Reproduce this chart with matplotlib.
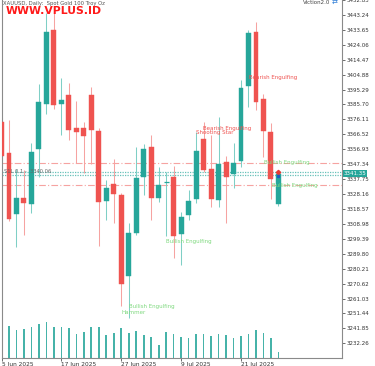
import matplotlib
matplotlib.use("Agg")
import matplotlib.pyplot as plt
import matplotlib.transforms as mtransforms
import numpy as np
import pandas as pd

# ---------------- data ----------------
dates = pd.bdate_range("2025-06-05", periods=38)
opens = [3374.2, 3354.4, 3315.4, 3325.6, 3321.8, 3356.9, 3385.7, 3433.6, 3386.3, 3392.1,
         3370.3, 3370.3, 3392.1, 3368.4, 3323.7, 3334.6, 3327.5, 3275.7, 3303.2, 3339.0,
         3358.2, 3325.6, 3335.5, 3339.0, 3302.6, 3314.7, 3325.0, 3363.3, 3344.2, 3324.3,
         3348.6, 3340.9, 3349.3, 3397.8, 3432.4, 3389.5, 3367.8, 3321.8]
highs = [3376.8, 3375.5, 3344.2, 3343.5, 3360.8, 3399.1, 3444.5, 3444.5, 3403.0, 3399.8,
         3388.2, 3374.2, 3397.2, 3370.4, 3337.1, 3350.5, 3328.8, 3309.6, 3358.2, 3360.1,
         3365.9, 3345.4, 3342.2, 3346.1, 3316.7, 3330.7, 3367.8, 3374.2, 3365.9, 3377.4,
         3352.5, 3360.8, 3401.7, 3433.7, 3438.8, 3392.7, 3373.6, 3342.5]
lows = [3349.9, 3310.9, 3294.3, 3302.0, 3316.0, 3339.0, 3379.9, 3383.1, 3365.9, 3362.7,
        3348.0, 3341.6, 3347.3, 3294.9, 3311.5, 3309.6, 3256.5, 3248.3, 3301.9, 3327.5,
        3311.5, 3323.0, 3301.3, 3287.3, 3282.8, 3311.5, 3322.4, 3342.2, 3319.9, 3319.9,
        3309.6, 3332.0, 3345.4, 3383.8, 3381.9, 3351.8, 3325.0, 3320.5]
closes = [3352.5, 3312.2, 3325.6, 3322.4, 3355.0, 3387.0, 3432.4, 3385.1, 3388.9, 3369.1,
          3367.8, 3365.2, 3369.1, 3323.0, 3332.0, 3328.2, 3270.6, 3303.2, 3338.4, 3356.9,
          3325.6, 3333.9, 3336.0, 3301.3, 3313.5, 3323.7, 3355.7, 3343.5, 3325.0, 3347.3,
          3339.0, 3348.0, 3396.6, 3431.7, 3387.0, 3368.4, 3337.8, 3341.35]
volumes = [150000, 158000, 141500, 146500, 153000, 170000, 181500, 153000, 156500, 148000,
           118000, 128000, 156500, 156500, 113000, 126500, 151500, 126500, 135000, 113000,
           106500, 66500, 131500, 118000, 106500, 100000, 121500, 121500, 111500, 121500,
           113000, 100000, 110000, 118000, 138000, 123000, 101500, 31500]

ytick_values = [round(3232.26 + 9.59 * k, 2) for k in range(24)]
date_tick_idx = [0, 8, 16, 24, 32]

patterns = [  # (bar index, price, text, kind)
    (33.1, 3402.9, "Bearish Engulfing", "bear"),
    (26.96, 3370.6, "Bearish Engulfing", "bear"),
    (26.0, 3368.0, "Shooting Star", "bear"),
    (35.1, 3348.7, "Bullish Engulfing", "bull"),
    (36.2, 3333.7, "Bullish Engulfing", "bull"),
    (22.0, 3297.8, "Bullish Engulfing", "bull"),
    (16.97, 3256.1, "Bullish Engulfing", "bull"),
    (16.0, 3252.3, "Hammer", "bull"),
]
sltp_levels = [3348.2, 3334.3]
price_lines = [3342.1, 3340.6]
last_price = 3341.35
order_text = "S1L 0.1 -  3340.06"

# ---------------- style ----------------
UP = "#26a69a"
DN = "#ef5350"
UP_W = "#7fcfc6"
DN_W = "#f6a3a1"

W, H = 375, 366
fig = plt.figure(figsize=(W / 100, H / 100), dpi=100)
fig.patch.set_facecolor("white")
left_px, right_px, bottom_px = 1.5, 342, 358
ax = fig.add_axes([left_px / W, (H - bottom_px) / H, (right_px - left_px) / W, bottom_px / H])
ax2 = ax.twinx()
ax.set_zorder(2)
ax.patch.set_visible(False)
ax2.set_zorder(1)

x0 = 0.8
step = 7.5
ax.set_xlim((left_px - x0) / step, (right_px - x0) / step)
ax.set_ylim(3222.85, 3452.2)

n = len(opens)
idx = np.arange(n)

# volumes
ax2.set_ylim(0, bottom_px * 5000)
ax2.bar(idx, volumes, width=0.22, color=UP, alpha=0.85, linewidth=0)
ax2.axis("off")

# candles
bw = 0.66
for i in range(n):
    o, h, l, c = opens[i], highs[i], lows[i], closes[i]
    up = c >= o
    col = UP if up else DN
    wcol = UP_W if up else DN_W
    ax.vlines(i, l, h, color=wcol, linewidth=0.75, zorder=2)
    lo, hi = min(o, c), max(o, c)
    if hi - lo < 1.0:
        ax.hlines((o + c) / 2, i - bw / 2, i + bw / 2, color=col, linewidth=0.9, zorder=3)
    else:
        ax.add_patch(plt.Rectangle((i - bw / 2, lo), bw, hi - lo, facecolor=col,
                                   edgecolor=col, linewidth=0.3, zorder=3))

# level lines
for lv in sltp_levels:
    ax.axhline(lv, color="#f6a3a1", linewidth=0.8, linestyle=(0, (6, 2, 1, 2)), zorder=1)
for lv in price_lines:
    ax.axhline(lv, color=UP, linewidth=0.9, linestyle=(0, (1, 1)), alpha=0.7, zorder=1)

# pattern labels
for xi, py, txt, kind in patterns:
    ax.text(xi, py, txt, fontsize=4.0, color=(DN if kind == "bear" else "#7fd97f"),
            ha="left", va="center", zorder=5)

# order text
ax.text(0.4, 3342.7, order_text, fontsize=3.7, color="#666666", ha="left", va="center", zorder=5)

# markers on last bar
ax.plot([n - 1], [3342.6], marker="D", markersize=2.2, color="#e53935", zorder=6, linestyle="none")
ax.plot([n - 1], [3340.0], marker="s", markersize=2.0, color="#1e5fbf", zorder=6, linestyle="none")

# axes styling
for s in ["top"]:
    ax.spines[s].set_visible(False)
for s in ["left", "right", "bottom"]:
    ax.spines[s].set_color("#8a8a8a")
    ax.spines[s].set_linewidth(0.8)
ax.yaxis.tick_right()
ax.set_yticks(ytick_values)
ax.set_yticklabels([f"{v:.2f}" for v in ytick_values])
ax.tick_params(axis="y", which="both", labelsize=4.0, length=2, width=0.5, pad=1,
               colors="#333333", left=False)
ax.set_xticks(date_tick_idx)
ax.set_xticklabels([f"{dates[i].day} {dates[i].strftime('%b %Y')}" for i in date_tick_idx])
ax.tick_params(axis="x", labelsize=4.2, length=2, width=0.5, pad=1, colors="#333333")
for lab in ax.get_xticklabels():
    lab.set_ha("left")

# price label box
trans = mtransforms.blended_transform_factory(ax.transAxes, ax.transData)
ax.text(1.004, last_price, f"{last_price:.2f}", transform=trans, fontsize=4.0, color="white",
        ha="left", va="center", zorder=10, clip_on=False,
        bbox=dict(boxstyle="square,pad=0.15", facecolor=UP, edgecolor="none"))

# header texts
fig.text(3 / W, 1 - 1 / H, "XAUUSD, Daily:  Spot Gold 100 Troy Oz", fontsize=3.8,
         color="#555555", ha="left", va="top")
fig.text(6 / W, 1 - 10.5 / H, "WWW.VPLUS.ID", fontsize=7.8, fontweight="bold",
         color="#ff1a1a", ha="left", va="center")
fig.text(330 / W, 1 - 3 / H, "Viction2.0", fontsize=4.0, color="#444444", ha="right", va="center")
fig.text(331.5 / W, 1 - 3 / H, "\u21c4", fontsize=5, color="#2a7bd6", ha="left", va="center")

fig.savefig("out.png", dpi=100)
